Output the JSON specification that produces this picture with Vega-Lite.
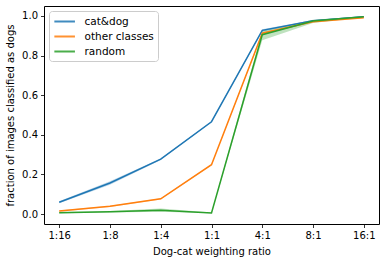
{
  "$schema": "https://vega.github.io/schema/vega-lite/v6.json",
  "width": 335,
  "height": 218,
  "autosize": "none",
  "padding": {"left": 44, "top": 6, "right": 7, "bottom": 38},
  "background": "white",
  "config": {
    "font": "DejaVu Sans",
    "view": {"stroke": "black", "strokeWidth": 1},
    "axis": {
      "grid": false,
      "domain": false,
      "tickColor": "black",
      "tickSize": 3.5,
      "tickWidth": 0.8,
      "labelColor": "black",
      "labelFontSize": 10,
      "labelFont": "DejaVu Sans",
      "titleFont": "DejaVu Sans",
      "titleFontSize": 10,
      "titleFontWeight": "normal",
      "titleColor": "black",
      "labelPadding": 3
    }
  },
  "data": {
    "values": [
      {"series": "cat&dog", "ratio": "1:16", "v": 0.060, "lo": 0.055, "hi": 0.065},
      {"series": "cat&dog", "ratio": "1:8", "v": 0.157, "lo": 0.148, "hi": 0.166},
      {"series": "cat&dog", "ratio": "1:4", "v": 0.277, "lo": 0.273, "hi": 0.281},
      {"series": "cat&dog", "ratio": "1:1", "v": 0.466, "lo": 0.463, "hi": 0.469},
      {"series": "cat&dog", "ratio": "4:1", "v": 0.927, "lo": 0.921, "hi": 0.933},
      {"series": "cat&dog", "ratio": "8:1", "v": 0.975, "lo": 0.971, "hi": 0.979},
      {"series": "cat&dog", "ratio": "16:1", "v": 0.996, "lo": 0.994, "hi": 0.998},
      {"series": "other classes", "ratio": "1:16", "v": 0.015, "lo": 0.012, "hi": 0.018},
      {"series": "other classes", "ratio": "1:8", "v": 0.039, "lo": 0.036, "hi": 0.042},
      {"series": "other classes", "ratio": "1:4", "v": 0.077, "lo": 0.074, "hi": 0.080},
      {"series": "other classes", "ratio": "1:1", "v": 0.249, "lo": 0.246, "hi": 0.252},
      {"series": "other classes", "ratio": "4:1", "v": 0.913, "lo": 0.908, "hi": 0.918},
      {"series": "other classes", "ratio": "8:1", "v": 0.971, "lo": 0.968, "hi": 0.974},
      {"series": "other classes", "ratio": "16:1", "v": 0.991, "lo": 0.989, "hi": 0.993},
      {"series": "random", "ratio": "1:16", "v": 0.007, "lo": 0.004, "hi": 0.010},
      {"series": "random", "ratio": "1:8", "v": 0.012, "lo": 0.008, "hi": 0.016},
      {"series": "random", "ratio": "1:4", "v": 0.020, "lo": 0.012, "hi": 0.028},
      {"series": "random", "ratio": "1:1", "v": 0.006, "lo": 0.004, "hi": 0.008},
      {"series": "random", "ratio": "4:1", "v": 0.905, "lo": 0.877, "hi": 0.925},
      {"series": "random", "ratio": "8:1", "v": 0.974, "lo": 0.964, "hi": 0.980},
      {"series": "random", "ratio": "16:1", "v": 0.996, "lo": 0.994, "hi": 0.998}
    ]
  },
  "encoding": {
    "x": {
      "field": "ratio",
      "type": "ordinal",
      "sort": ["1:16", "1:8", "1:4", "1:1", "4:1", "8:1", "16:1"],
      "scale": {"type": "point", "padding": 0.3},
      "axis": {"title": "Dog-cat weighting ratio", "labelAngle": 0, "titlePadding": 6}
    },
    "color": {
      "field": "series",
      "type": "nominal",
      "scale": {
        "domain": ["cat&dog", "other classes", "random"],
        "range": ["#1f77b4", "#ff7f0e", "#2ca02c"]
      },
      "legend": {
        "title": null,
        "orient": "none",
        "legendX": 5,
        "legendY": 5,
        "symbolType": "M-1,0H3",
        "symbolSize": 106,
        "symbolStrokeWidth": 2,
        "symbolOpacity": 0.85,
        "labelFontSize": 10.5,
        "labelColor": "black",
        "labelFont": "DejaVu Sans",
        "rowPadding": 3,
        "padding": 4,
        "strokeColor": "#cccccc",
        "fillColor": "white",
        "cornerRadius": 3,
        "labelOffset": 18.5
      }
    }
  },
  "layer": [
    {
      "mark": {"type": "area", "opacity": 0.3},
      "encoding": {
        "y": {"field": "lo", "type": "quantitative"},
        "y2": {"field": "hi"}
      }
    },
    {
      "mark": {"type": "line", "strokeWidth": 1.5},
      "encoding": {
        "y": {
          "field": "v",
          "type": "quantitative",
          "scale": {"domain": [-0.05, 1.05], "nice": false, "zero": false},
          "axis": {
            "title": "fraction of images classified as dogs",
            "values": [0, 0.2, 0.4, 0.6, 0.8, 1.0],
            "format": ".1f",
            "titlePadding": 6
          }
        }
      }
    }
  ]
}
